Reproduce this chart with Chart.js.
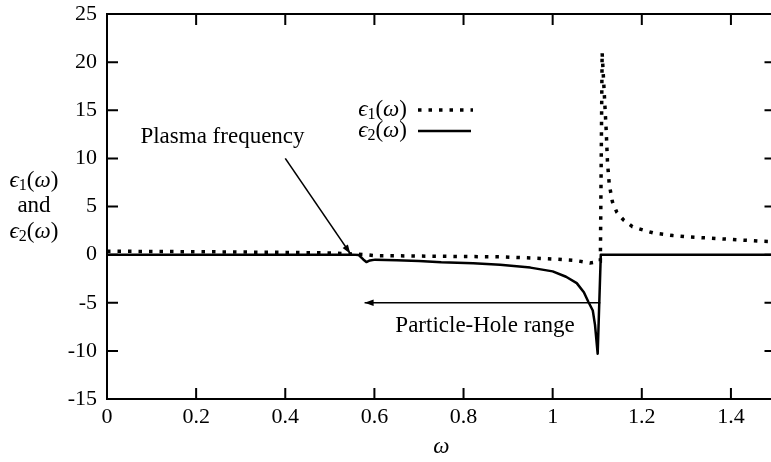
<!DOCTYPE html>
<html><head><meta charset="utf-8">
<script src="https://cdn.jsdelivr.net/npm/chart.js@4.4.0/dist/chart.umd.min.js"></script>
<style>
html,body{margin:0;padding:0;overflow:hidden;background:#fff;width:771px;height:462px}
#wrap{width:777px;height:462px}
</style></head>
<body><div id="wrap"><canvas id="c" width="777" height="462"></canvas></div>
<script>
// ---- data ----
const omega1 = [0, 0.1, 0.2, 0.3, 0.4, 0.5, 0.54, 0.56, 0.58, 0.6, 0.65, 0.7, 0.8, 0.88, 0.95, 1.0, 1.05, 1.084, 1.1, 1.107,
                1.111, 1.12, 1.123, 1.127, 1.134, 1.144, 1.159, 1.179, 1.2, 1.226, 1.27, 1.3, 1.346, 1.4, 1.466, 1.5];
const eps1   = [0.35, 0.33, 0.3, 0.27, 0.23, 0.17, 0.1, 0.05, 0, -0.1, -0.12, -0.15, -0.2, -0.22, -0.35, -0.45, -0.6, -0.87, -0.75, -0.7,
                21, 13, 9.6, 7.3, 5.5, 4.4, 3.6, 2.9, 2.6, 2.25, 1.98, 1.85, 1.73, 1.58, 1.4, 1.35];
const omega2 = [0, 0.55, 0.565, 0.575, 0.582, 0.59, 0.602, 0.65, 0.7, 0.75, 0.822, 0.882, 0.95, 1.0, 1.03, 1.054, 1.07, 1.08,
                1.09, 1.095, 1.101, 1.108, 1.2, 1.5];
const eps2   = [0, 0, -0.05, -0.5, -0.77, -0.6, -0.52, -0.58, -0.65, -0.8, -0.9, -1.04, -1.35, -1.74, -2.3, -2.96, -3.9, -4.9,
                -5.8, -7.3, -10.3, 0, 0, 0];
const xTicks = [0, 0.2, 0.4, 0.6, 0.8, 1, 1.2, 1.4];
const yTicks = [-15, -10, -5, 0, 5, 10, 15, 20, 25];
const seriesSubs = ['1', '2'];
const annoTexts = ['Plasma frequency', 'Particle-Hole range'];
const yTitleMid = 'and';
const xTitle = 'ω';

// ---- layout / style ----
const SERIF = "'Liberation Serif', 'DejaVu Serif', serif";
const TICK_FONT = 22, TEXT_FONT = 23;
Chart.defaults.font.family = SERIF;
Chart.defaults.font.size = TICK_FONT;
Chart.defaults.color = '#000';
const ann = {
  plasmaText: {x: 0.075, y: 11.6},
  plasmaArrow: {x0: 0.4, y0: 10, x1: 0.546, y1: 0.1},
  phText: {x: 0.647, y: -8.05},
  phArrow: {x0: 1.107, y0: -5, x1: 0.578, y1: -5}
};

function pts(xs, ys) { return xs.map((x, i) => ({x: x, y: ys[i]})); }

function drawRich(ctx, sub, x, y, size, align) {
  const parts = [
    {t: 'ϵ', f: 'italic ' + size + 'px ' + SERIF, dy: 0},
    {t: sub, f: Math.round(size * 0.7) + 'px ' + SERIF, dy: size * 0.2},
    {t: '(', f: size + 'px ' + SERIF, dy: 0},
    {t: 'ω', f: 'italic ' + size + 'px ' + SERIF, dy: 0},
    {t: ')', f: size + 'px ' + SERIF, dy: 0}
  ];
  let total = 0;
  parts.forEach(p => { ctx.font = p.f; p.w = ctx.measureText(p.t).width; total += p.w; });
  let cx = align === 'right' ? x - total : align === 'center' ? x - total / 2 : x;
  ctx.textAlign = 'left';
  parts.forEach(p => { ctx.font = p.f; ctx.fillText(p.t, cx, y + p.dy); cx += p.w; });
}

function arrow(ctx, ax, ay, bx, by) {
  ctx.beginPath(); ctx.moveTo(ax, ay); ctx.lineTo(bx, by); ctx.stroke();
  const a = Math.atan2(by - ay, bx - ax), L = 9, W = 3.2;
  ctx.beginPath();
  ctx.moveTo(bx, by);
  ctx.lineTo(bx - L * Math.cos(a) + W * Math.sin(a), by - L * Math.sin(a) - W * Math.cos(a));
  ctx.lineTo(bx - L * Math.cos(a) - W * Math.sin(a), by - L * Math.sin(a) + W * Math.cos(a));
  ctx.closePath(); ctx.fill();
}

const decor = {
  id: 'decor',
  afterDraw(chart) {
    const ctx = chart.ctx, a = chart.chartArea, xs = chart.scales.x, ys = chart.scales.y;
    ctx.save();
    ctx.strokeStyle = '#000'; ctx.fillStyle = '#000';
    ctx.lineWidth = 2;
    ctx.strokeRect(a.left, a.top, a.right - a.left, a.bottom - a.top);
    const TL = 11;
    ctx.beginPath();
    xTicks.forEach(v => {
      const px = xs.getPixelForValue(v);
      ctx.moveTo(px, a.bottom); ctx.lineTo(px, a.bottom - TL);
      ctx.moveTo(px, a.top); ctx.lineTo(px, a.top + TL);
    });
    yTicks.forEach(v => {
      const py = ys.getPixelForValue(v);
      ctx.moveTo(a.left, py); ctx.lineTo(a.left + TL, py);
      ctx.moveTo(a.right, py); ctx.lineTo(a.right - TL, py);
    });
    ctx.stroke();
    ctx.lineWidth = 1.6;
    const p = ann.plasmaArrow, q = ann.phArrow;
    arrow(ctx, xs.getPixelForValue(p.x0), ys.getPixelForValue(p.y0), xs.getPixelForValue(p.x1), ys.getPixelForValue(p.y1));
    arrow(ctx, xs.getPixelForValue(q.x0), ys.getPixelForValue(q.y0), xs.getPixelForValue(q.x1), ys.getPixelForValue(q.y1));
    ctx.textBaseline = 'alphabetic'; ctx.textAlign = 'left';
    ctx.font = TEXT_FONT + 'px ' + SERIF;
    ctx.fillText(annoTexts[0], xs.getPixelForValue(ann.plasmaText.x), ys.getPixelForValue(ann.plasmaText.y));
    ctx.fillText(annoTexts[1], xs.getPixelForValue(ann.phText.x), ys.getPixelForValue(ann.phText.y));
    const lx = a.left + 300, ly0 = a.top + 96, ly1 = a.top + 117;
    ctx.textBaseline = 'middle';
    drawRich(ctx, seriesSubs[0], lx, ly0, TEXT_FONT, 'right');
    drawRich(ctx, seriesSubs[1], lx, ly1, TEXT_FONT, 'right');
    ctx.lineWidth = 3.5; ctx.setLineDash([3.5, 7]); ctx.lineCap = 'butt';
    ctx.beginPath(); ctx.moveTo(lx + 11, ly0); ctx.lineTo(lx + 66, ly0); ctx.stroke();
    ctx.setLineDash([]); ctx.lineWidth = 2.5;
    ctx.beginPath(); ctx.moveTo(lx + 11, ly1); ctx.lineTo(lx + 64, ly1); ctx.stroke();
    drawRich(ctx, seriesSubs[0], 34, 181, TEXT_FONT, 'center');
    ctx.font = TEXT_FONT + 'px ' + SERIF; ctx.textAlign = 'center';
    ctx.fillText(yTitleMid, 34, 206);
    drawRich(ctx, seriesSubs[1], 34, 232, TEXT_FONT, 'center');
    ctx.font = 'italic ' + TEXT_FONT + 'px ' + SERIF; ctx.textAlign = 'center';
    ctx.fillText(xTitle, (a.left + a.right) / 2, 447);
    ctx.restore();
  }
};

new Chart(document.getElementById('c'), {
  type: 'line',
  data: {
    datasets: [
      {label: 'eps1', data: pts(omega1, eps1), borderColor: '#000', borderWidth: 3.5,
       borderDash: [3.5, 7], borderCapStyle: 'butt', pointRadius: 0, tension: 0, fill: false},
      {label: 'eps2', data: pts(omega2, eps2), borderColor: '#000', borderWidth: 2.5,
       pointRadius: 0, tension: 0, fill: false, borderJoinStyle: 'round'}
    ]
  },
  options: {
    responsive: false, animation: false, events: [],
    layout: {padding: {top: 14, right: 1.5, left: 0, bottom: 0}},
    plugins: {legend: {display: false}, tooltip: {enabled: false}},
    scales: {
      x: {type: 'linear', min: 0, max: 1.5,
          afterBuildTicks: s => { s.ticks = xTicks.map(v => ({value: v})); },
          afterFit: s => { s.height = 63; s.paddingLeft = 0; s.paddingRight = 0; },
          grid: {display: false, drawTicks: false}, border: {display: false},
          ticks: {padding: 5, maxRotation: 0, autoSkip: false, color: '#000',
                  font: {family: SERIF, size: TICK_FONT}, callback: v => String(v)}},
      y: {type: 'linear', min: -15, max: 25,
          afterBuildTicks: s => { s.ticks = yTicks.map(v => ({value: v})); },
          afterFit: s => { s.width = 107; s.paddingTop = 0; s.paddingBottom = 0; },
          grid: {display: false, drawTicks: false}, border: {display: false},
          ticks: {padding: 10, color: '#000', font: {family: SERIF, size: TICK_FONT}, callback: v => String(v)}}
    }
  },
  plugins: [decor]
});
</script>
</body></html>
